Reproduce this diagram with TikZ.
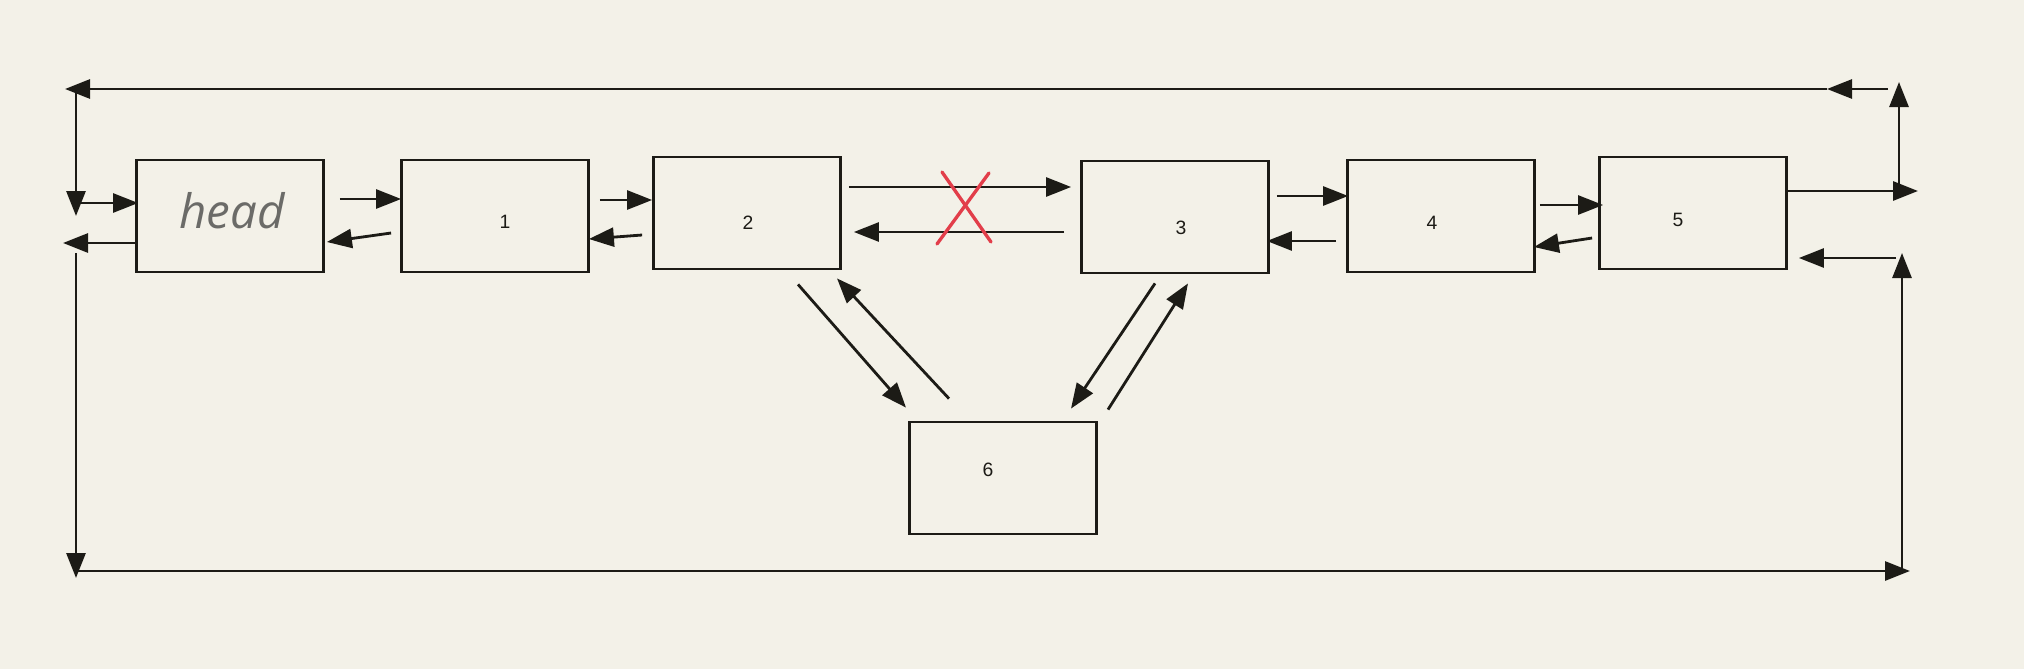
\documentclass[tikz,border=0pt]{standalone}
\usepackage{fontspec}
\setmainfont{Liberation Sans}
\newfontfamily\headfont{Open Sans}
\usepackage{tikz}
\usetikzlibrary{arrows.meta, calc}
\definecolor{cPaper}{RGB}{243,241,232}
\definecolor{cInk}{RGB}{28,27,22}
\definecolor{cRed}{RGB}{226,62,74}
\tikzset{
	listbox/.style={rectangle, draw=cInk, line width=1.6pt, minimum width=3.74cm, minimum height=2.24cm, inner sep=0pt},
	link/.style={-{Triangle[length=5mm, width=3.8mm]}, draw=cInk, line width=1.6pt},
	lbl/.style={font=\fontsize{11}{13}\selectfont, text=cInk, inner sep=0pt},
	% red cross over the broken link
	crossout/.style={draw=cRed, line width=1.9pt, line cap=round},
}

\begin{document}
\begin{tikzpicture}[x=0.2mm, y=-0.2mm]
	\fill[cPaper] (0,0) rectangle (2024,669);
	\useasboundingbox (0,0) rectangle (2024,669);
	% list nodes
	\foreach \nm/\cx/\cy in {h/230/216, b1/495/216, b2/747/213, b3/1175/217, b4/1441/216, b5/1693/213, b6/1003/478}
		\node[listbox] (\nm) at (\cx,\cy) {};
	\node[lbl, font=\headfont\itshape\fontsize{27}{30}\selectfont, text=cInk!65] (th) at ($(h)+(2,-5)$) {head};
	\foreach \nm/\dx/\dy/\txt in {b1/10/6/1, b2/1/10/2, b3/6/11/3, b4/-9/7/4, b5/-15/7/5, b6/-15/-8/6}
		\node[lbl] (t\txt) at ($(\nm)+(\dx,\dy)$) {\txt};
	% next / prev links
	\foreach \a/\ax/\ay/\b/\bx/\by in {h.east/15/-17/b1.west/1/-17, b1.west/-9/17/h.east/2/26,
			b1.east/10/-16/b2.west/0/-13, b2.west/-10/22/b1.east/-1/23,
			b2.east/7/-26/b3.west/-9/-30, b3.west/-16/15/b2.east/12/19,
			b3.east/7/-21/b4.west/2/-20, b4.west/-10/25/b3.east/-3/24,
			b4.east/4/-11/b5.west/5/-8, b5.west/-6/25/b4.east/-2/31,
			b2.south/51/14/b6.north/-97/-13, b6.north/-54/-22/b2.south/90/8,
			b3.south/-20/9/b6.north/68/-12, b6.north/105/-11/b3.south/13/9}
		\draw[link] ($(\a)+(\ax,\ay)$) -- ($(\b)+(\bx,\by)$);
	\draw[crossout] (942,172) -- (991,242);
	\draw[crossout] (989,173) -- (937,244);
	% circular links round the list
	\coordinate (topL) at (65,89);
	\coordinate (topM) at (1827,89);
	\coordinate (topR) at (1888,89);
	\coordinate (cornTL) at (76,89);
	\coordinate (inH) at (76,216);
	\coordinate (outH) at (63,243);
	\coordinate (leftTop) at (76,253);
	\coordinate (botL) at (76,578);
	\coordinate (botL2) at (76,571);
	\coordinate (botR) at (1910,571);
	\coordinate (rightBot) at (1902,571);
	\coordinate (rightTop) at (1902,253);
	\coordinate (inE) at (1896,258);
	\coordinate (outE) at (1918,191);
	\coordinate (upBot) at (1899,191);
	\coordinate (upTop) at (1899,82);
	\draw[link] (topR) -- (topM);
	\draw[link] (topM) -- (topL);
	\draw[link] (cornTL) -- (inH);
	\draw[link] ($(h.west)+(-54,-13)$) -- ($(h.west)+(3,-13)$);
	\draw[link] ($(h.west)+(0,27)$) -- (outH);
	\draw[link] (leftTop) -- (botL);
	\draw[link] (botL2) -- (botR);
	\draw[link] (rightBot) -- (rightTop);
	\draw[link] (inE) -- ($(b5.east)+(11,45)$);
	\draw[link] ($(b5.east)+(0,-22)$) -- (outE);
	\draw[link] (upBot) -- (upTop);
\end{tikzpicture}
\end{document}
